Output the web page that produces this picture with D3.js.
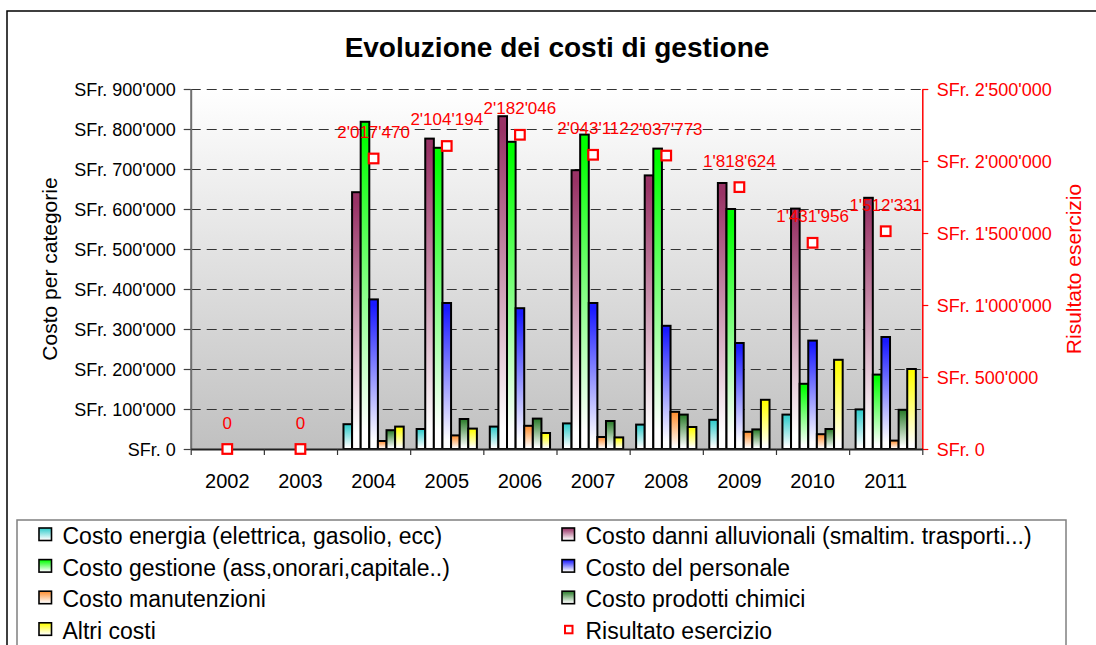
<!DOCTYPE html>
<html>
<head>
<meta charset="utf-8">
<script src="https://cdn.jsdelivr.net/npm/d3@7/dist/d3.min.js"></script>
<style>
  html, body { margin: 0; padding: 0; background: #fff; }
  svg { display: block; font-family: "Liberation Sans", Arial, sans-serif; }
</style>
</head>
<body>
<svg id="chart" width="1096" height="645"></svg>
<script>
// ---- data (SFr) ----
const years = ['2002', '2003', '2004', '2005', '2006', '2007', '2008', '2009', '2010', '2011'];

const costoEnergia      = [null, null,  62000,  50000,  56000,  64000,  61000,  73000,  86000,  99000];
const costoDanni        = [null, null, 642000, 776000, 832000, 697000, 684000, 665000, 601000, 628000];
const costoGestione     = [null, null, 818000, 753000, 768000, 786000, 751000, 600000, 163000, 186000];
const costoPersonale    = [null, null, 374000, 365000, 352000, 365000, 308000, 265000, 271000, 280000];
const costoManutenzioni = [null, null,  20000,  34000,  58000,  30000,  93000,  43000,  37000,  21000];
const costoChimici      = [null, null,  47000,  75000,  76000,  70000,  86000,  49000,  50000,  98000];
const altriCosti        = [null, null,  56000,  51000,  40000,  29000,  55000, 123000, 223000, 200000];

const risultatoEsercizio = [0, 0, 2017470, 2104194, 2182046, 2043112, 2037773, 1818624, 1431956, 1512331];

const seriesNames = [
  'Costo energia (elettrica, gasolio, ecc)',
  'Costo danni alluvionali (smaltim. trasporti...)',
  'Costo gestione (ass,onorari,capitale..)',
  'Costo del personale',
  'Costo manutenzioni',
  'Costo prodotti chimici',
  'Altri costi'
];
const seriesValues = [costoEnergia, costoDanni, costoGestione, costoPersonale, costoManutenzioni, costoChimici, altriCosti];
const seriesColors = ['#33cccc', '#993366', '#00ff00', '#1a1aff', '#ff9033', '#2f7f2f', '#ffff00'];
const resultName = 'Risultato esercizio';

const leftTicks  = [0, 100000, 200000, 300000, 400000, 500000, 600000, 700000, 800000, 900000];
const rightTicks = [0, 500000, 1000000, 1500000, 2000000, 2500000];

// ---- layout ----
const svg = d3.select('#chart');
const plot = { left: 190.7, right: 922.3, top: 89, bottom: 449 };
const FONT = '"Liberation Sans", Arial, sans-serif';

const fmtNum = v => d3.format(',')(v).replace(/,/g, "'");
const fmtSFr = v => 'SFr. ' + fmtNum(v);

const x = d3.scaleBand().domain(years).range([plot.left, plot.right]).paddingInner(0).paddingOuter(0);
const xs = d3.scaleBand().domain(d3.range(seriesNames.length)).range([0, x.bandwidth()]).paddingInner(0).paddingOuter(0.75);
const y = d3.scaleLinear().domain([0, 900000]).range([plot.bottom, plot.top]);
const y2 = d3.scaleLinear().domain([0, 2500000]).range([plot.bottom, plot.top]);

// ---- gradients ----
const defs = svg.append('defs');
const bg = defs.append('linearGradient').attr('id', 'plotBg')
  .attr('x1', 0).attr('y1', 0).attr('x2', 0).attr('y2', 1);
bg.append('stop').attr('offset', 0).attr('stop-color', '#ffffff');
bg.append('stop').attr('offset', 1).attr('stop-color', '#c0c0c0');

seriesColors.forEach((c, i) => {
  const g = defs.append('linearGradient').attr('id', 'grad' + i)
    .attr('x1', 0).attr('y1', 0).attr('x2', 0).attr('y2', 1);
  g.append('stop').attr('offset', 0.04).attr('stop-color', c);
  g.append('stop').attr('offset', 0.94).attr('stop-color', '#ffffff');
});

// ---- outer frame ----
svg.append('rect')
  .attr('x', 7).attr('y', 11).attr('width', 1200).attr('height', 800)
  .attr('fill', '#fff').attr('stroke', '#000').attr('stroke-width', 1.5);

// ---- title ----
svg.append('text')
  .attr('x', 557).attr('y', 57)
  .attr('text-anchor', 'middle')
  .attr('font-family', FONT).attr('font-size', 28).attr('font-weight', 'bold')
  .attr('fill', '#000')
  .text('Evoluzione dei costi di gestione');

// ---- plot background ----
svg.append('rect')
  .attr('x', plot.left).attr('y', plot.top)
  .attr('width', plot.right - plot.left).attr('height', plot.bottom - plot.top)
  .attr('fill', 'url(#plotBg)');

// ---- gridlines ----
const grid = svg.append('g').attr('transform', `translate(${plot.left},0)`)
  .call(d3.axisLeft(y).tickValues(leftTicks.filter(d => d > 0))
    .tickSize(-(plot.right - plot.left)).tickFormat(''));
grid.select('.domain').remove();
grid.selectAll('line').attr('stroke', '#333').attr('stroke-width', 1.2).attr('stroke-dasharray', '10,6');

// ---- bars ----
const barLayer = svg.append('g');
seriesValues.forEach((vals, si) => {
  barLayer.append('g')
    .selectAll('rect')
    .data(years.map((yr, i) => ({ yr, v: vals[i] })).filter(d => d.v != null))
    .join('rect')
    .attr('x', d => x(d.yr) + xs(si))
    .attr('y', d => y(d.v))
    .attr('width', xs.bandwidth())
    .attr('height', d => y(0) - y(d.v))
    .attr('fill', `url(#grad${si})`)
    .attr('stroke', '#000')
    .attr('stroke-width', 2);
});

// ---- left axis ----
const gl = svg.append('g').attr('transform', `translate(${plot.left},0)`)
  .call(d3.axisLeft(y).tickValues(leftTicks).tickSize(7).tickSizeOuter(0).tickPadding(8).tickFormat(fmtSFr));
gl.select('.domain').attr('stroke', '#707070').attr('stroke-width', 2);
gl.selectAll('.tick line').attr('stroke', '#404040').attr('stroke-width', 1.2);
gl.selectAll('.tick text').attr('font-family', FONT).attr('font-size', 18).attr('fill', '#000').attr('dy', '0.36em');

// ---- right axis ----
const gr = svg.append('g').attr('transform', `translate(${plot.right},0)`)
  .call(d3.axisRight(y2).tickValues(rightTicks).tickSize(6).tickSizeOuter(0).tickPadding(8.5).tickFormat(fmtSFr));
gr.select('.domain').attr('stroke', '#ff0000').attr('stroke-width', 1.5);
gr.selectAll('.tick line').attr('stroke', '#ff0000').attr('stroke-width', 1.2);
gr.selectAll('.tick text').attr('font-family', FONT).attr('font-size', 18).attr('fill', '#ff0000').attr('dy', '0.36em');

// ---- bottom axis: boundary ticks + centred labels ----
const xb = d3.scaleLinear().domain([0, years.length]).range([plot.left, plot.right]);
const gbt = svg.append('g').attr('transform', `translate(0,${plot.bottom})`)
  .call(d3.axisBottom(xb).tickValues(d3.range(years.length + 1)).tickSize(6).tickSizeOuter(0).tickFormat(''));
gbt.select('.domain').attr('stroke', '#222').attr('stroke-width', 2);
gbt.selectAll('.tick line').attr('stroke', '#333').attr('stroke-width', 1.2);

const gb = svg.append('g').attr('transform', `translate(0,${plot.bottom})`)
  .call(d3.axisBottom(x).tickSize(0).tickPadding(0));
gb.select('.domain').remove();
gb.selectAll('.tick text').attr('font-family', FONT).attr('font-size', 20).attr('fill', '#000')
  .attr('y', 39).attr('dy', 0);

// ---- axis titles ----
svg.append('text')
  .attr('transform', `translate(57,${(plot.top + plot.bottom) / 2}) rotate(-90)`)
  .attr('text-anchor', 'middle')
  .attr('font-family', FONT).attr('font-size', 21).attr('fill', '#000')
  .text('Costo per categorie');
svg.append('text')
  .attr('transform', `translate(1081,${(plot.top + plot.bottom) / 2}) rotate(-90)`)
  .attr('text-anchor', 'middle')
  .attr('font-family', FONT).attr('font-size', 21).attr('fill', '#ff0000')
  .text(resultName);

// ---- result markers + labels ----
const res = years.map((yr, i) => ({ yr, v: risultatoEsercizio[i] }));
const mk = 9.6;
svg.append('g').selectAll('rect')
  .data(res).join('rect')
  .attr('x', d => x(d.yr) + x.bandwidth() / 2 - mk / 2)
  .attr('y', d => y2(d.v) - mk / 2)
  .attr('width', mk).attr('height', mk)
  .attr('fill', '#fff').attr('stroke', '#ff0000').attr('stroke-width', 2.2);
svg.append('g').selectAll('text')
  .data(res).join('text')
  .attr('x', d => x(d.yr) + x.bandwidth() / 2)
  .attr('y', d => y2(d.v) - 20.5)
  .attr('text-anchor', 'middle')
  .attr('font-family', FONT).attr('font-size', 17).attr('fill', '#ff0000')
  .text(d => fmtNum(d.v));

// ---- legend ----
svg.append('rect')
  .attr('x', 17).attr('y', 520).attr('width', 1049).attr('height', 300)
  .attr('fill', '#fff').attr('stroke', '#808080').attr('stroke-width', 1.5);

const legendItems = seriesNames.map((n, i) => ({ name: n, idx: i })).concat([{ name: resultName, idx: -1 }]);
const colX = [39, 562];
const rowH = 31.6;
const lg = svg.append('g');
legendItems.forEach((it, k) => {
  const col = k % 2, row = Math.floor(k / 2);
  const mx = colX[col];
  const my = 528 + row * rowH;
  if (it.idx >= 0) {
    lg.append('rect').attr('x', mx).attr('y', my).attr('width', 12.5).attr('height', 12.5)
      .attr('fill', `url(#grad${it.idx})`).attr('stroke', '#000').attr('stroke-width', 1.6);
  } else {
    lg.append('rect').attr('x', mx + 3).attr('y', my + 3).attr('width', 7.5).attr('height', 7.5)
      .attr('fill', '#fff').attr('stroke', '#ff0000').attr('stroke-width', 2);
  }
  lg.append('text')
    .attr('x', mx + 23.5).attr('y', my + 16)
    .attr('font-family', FONT).attr('font-size', 23).attr('fill', '#000')
    .text(it.name);
});
</script>
</body>
</html>
